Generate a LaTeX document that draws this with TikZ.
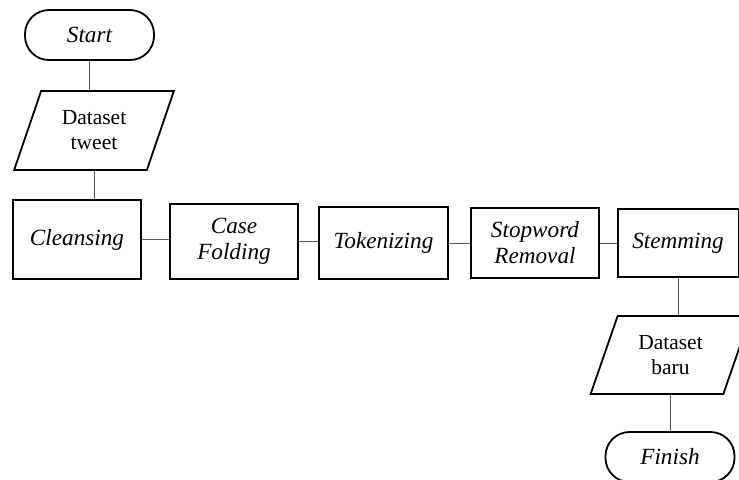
\documentclass[tikz,border=0pt]{standalone}
\usepackage{fontspec}
\setmainfont{Liberation Serif}
\usetikzlibrary{shapes.geometric}

\tikzset{
    terminal/.style={draw, line width=0.9pt, rounded corners=12pt, align=center,
        minimum width=64.5pt, minimum height=25pt, font=\fontsize{11.6}{13}\selectfont\itshape},
    process/.style={draw, line width=1pt, align=center, font=\fontsize{11.6}{13}\selectfont\itshape},
    iobox/.style={draw, line width=0.9pt, trapezium, trapezium left angle=68,
        trapezium right angle=112, trapezium stretches=true, align=center,
        minimum width=80pt, minimum height=39.5pt, inner sep=1pt},
    link/.style={black!65, line width=0.5pt}
}

\begin{document}
\begin{tikzpicture}[x=0.5pt, y=-0.5pt, font=\fontsize{10.75}{12.5}\selectfont]
    \clip (0,0) rectangle (739,479);
    \useasboundingbox (0,0) rectangle (739,479);

    % Start and input
    \node[terminal] (start) at (89.5,35) {Start};
    \node[iobox] (tweet) at (94,130.5) {Dataset\\tweet};

    % Preprocessing steps
    \node[process, minimum width=64pt, minimum height=39.5pt] (cleansing) at (77,239.5) {Cleansing};
    \node[process, minimum width=64pt, minimum height=37.5pt] (casefold) at (234,241.5) {Case\\Folding};
    \node[process, minimum width=64.5pt, minimum height=36pt] (token) at (383.5,243) {Tokenizing};
    \node[process, minimum width=64pt, minimum height=35pt] (stopword) at (535,243) {Stopword\\Removal};
    \node[process, minimum width=60.5pt, minimum height=34pt] (stemming) at (678,243) {Stemming};

    % Output and finish
    \node[iobox, minimum height=39pt] (baru) at (670.5,355) {Dataset\\baru};
    \node[terminal] (finish) at (670,457) {Finish};

    % Connectors
    \draw[link] (start.south) -- (start.south |- tweet.north);
    \draw[link] (tweet.south) -- (tweet.south |- cleansing.north);
    \draw[link] (cleansing.east) -- (cleansing.east -| casefold.west);
    \draw[link] (casefold.east) -- (casefold.east -| token.west);
    \draw[link] (token.east) -- (token.east -| stopword.west);
    \draw[link] (stopword.east) -- (stopword.east -| stemming.west);
    \draw[link] (stemming.south) -- (stemming.south |- baru.north);
    \draw[link] (baru.south) -- (baru.south |- finish.north);

\end{tikzpicture}
\end{document}
